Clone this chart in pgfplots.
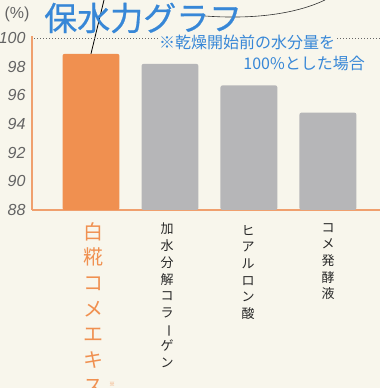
\documentclass[border=0pt]{standalone}
\usepackage{pgfplots}
\pgfplotsset{compat=1.18}
\usepackage{fontspec}
\usepackage{graphicx}
\setmainfont{Liberation Sans}
\newfontfamily\jp{Noto Sans CJK JP}
\newfontfamily\jptitle[FakeBold=0.6]{Noto Sans CJK JP}
\definecolor{bg}{RGB}{248,246,236}
\definecolor{barorange}{RGB}{240,144,80}
\definecolor{bargray}{RGB}{182,182,184}
\definecolor{axisorange}{RGB}{240,160,110}
\definecolor{titleblue}{RGB}{55,135,215}
\definecolor{ticktext}{RGB}{100,100,100}
\definecolor{labeltext}{RGB}{40,40,40}
\begin{document}
\begin{tikzpicture}[x=1pt,y=1pt]
\fill[bg] (0,0) rectangle (380,388);
\draw[black, line width=0.8pt] (104,388) -- (89,326);
\draw[black!80, line width=0.6pt] (205,372) .. controls (260,368) and (300,376) .. (325,388);
\begin{axis}[
  at={(32pt,178pt)}, anchor=south west,
  scale only axis, width=348pt, height=174pt,
  xmin=-0.747, xmax=3.66, ymin=88, ymax=100.15,
  axis x line*=bottom, axis y line*=left,
  axis line style={axisorange, line width=1.2pt, -},
  ytick={88,90,...,100},
  xtick=\empty,
  major tick length=0pt,
  yticklabel style={font=\itshape\fontsize{16}{16}\selectfont, text=ticktext, xshift=-3pt},
  /pgf/number format/assume math mode=true,
  ybar, bar width=0.72,
]
\addplot[fill=barorange, draw=none, bar shift=0pt, rounded corners=2pt] coordinates {(0,98.9)};
\addplot[fill=bargray, draw=none, bar shift=0pt, rounded corners=2pt] coordinates {(1,98.2) (2,96.7) (3,94.8)};
\draw[dotted, black!60, line width=1pt] (axis cs:-0.72,100) -- (axis cs:3.66,100);
\end{axis}
\node[anchor=center, text=ticktext, font=\fontsize{16}{16}\selectfont] at (17,374) {(\%)};
\node[anchor=west, inner sep=0pt, text=titleblue, font=\jptitle\fontsize{33}{33}\selectfont] at (44,370) {保水力グラフ};
\node[anchor=west, inner sep=1pt, fill=bg, text=titleblue, font=\jp\fontsize{16}{16}\selectfont] at (158,346) {※乾燥開始前の水分量を};
\node[anchor=east, inner sep=1pt, text=titleblue, font=\jp\fontsize{16}{16}\selectfont] at (366,325) {100\%とした場合};
\node[anchor=north, inner sep=0pt, align=center, text=barorange, font=\jp\fontsize{20}{25.7}\selectfont] at (93,166) {白\\糀\\コ\\メ\\エ\\キ\\ス};
\node[inner sep=0pt, text=barorange, font=\jp\fontsize{6}{6}\selectfont] at (112,4) {※};
\node[anchor=north, inner sep=0pt, align=center, text=labeltext, font=\jp\fontsize{13}{16.7}\selectfont] at (167,165) {加\\水\\分\\解\\コ\\ラ\\\rotatebox[origin=c]{-90}{ー}\\ゲ\\ン};
\node[anchor=north, inner sep=0pt, align=center, text=labeltext, font=\jp\fontsize{13}{16.7}\selectfont] at (248,163) {ヒ\\ア\\ル\\ロ\\ン\\酸};
\node[anchor=north, inner sep=0pt, align=center, text=labeltext, font=\jp\fontsize{13}{16.7}\selectfont] at (328,165) {コ\\メ\\発\\酵\\液};
\pgfresetboundingbox
\path[use as bounding box] (0,0) rectangle (380,388);
\end{tikzpicture}
\end{document}
